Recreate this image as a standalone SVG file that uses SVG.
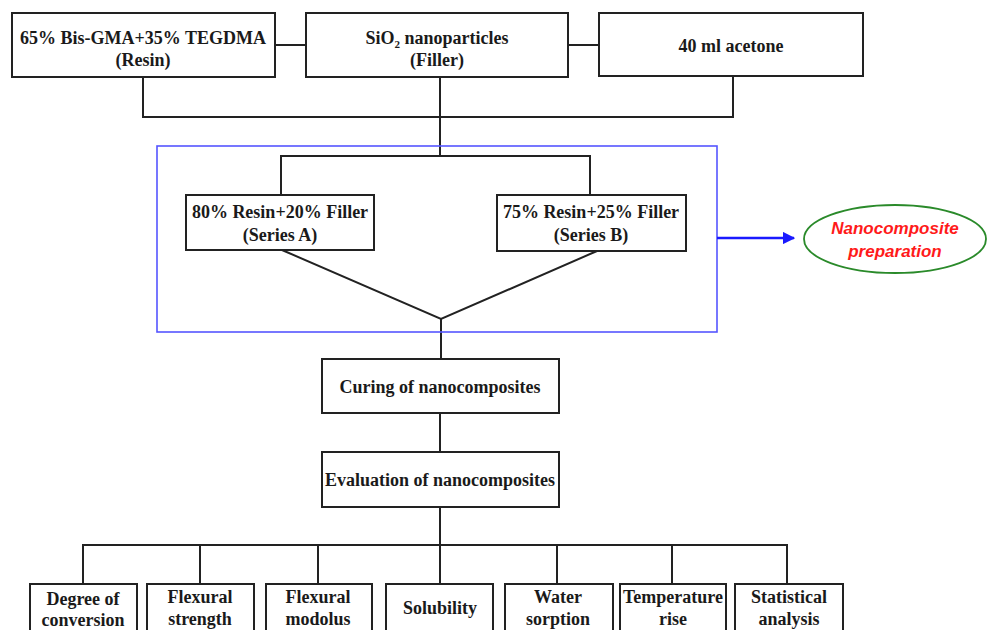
<svg xmlns="http://www.w3.org/2000/svg" width="988" height="630" viewBox="0 0 988 630">
<defs>
<style>
.box{fill:#fff;stroke:#222;stroke-width:2}
.ln{fill:none;stroke:#222;stroke-width:2}
.t{font-family:"Liberation Serif","Times New Roman",serif;font-weight:bold;font-size:18px;fill:#1a1a1a;text-anchor:middle}
.r{font-family:"Liberation Sans",Arial,sans-serif;font-weight:bold;font-style:italic;font-size:17px;fill:#ff1a1a;text-anchor:middle}
</style>
<marker id="ah" viewBox="0 0 10 10" refX="9" refY="5" markerWidth="5" markerHeight="5" orient="auto" markerUnits="strokeWidth">
<path d="M0,0 L10,5 L0,10 z" fill="#1a1aff"/>
</marker>
</defs>
<rect width="988" height="630" fill="#fff"/>
<g id="connectors">
<path class="ln" d="M275,45 H306 M568,45 H599"/>
<path class="ln" d="M143,77 V117 H733 V77"/>
<path class="ln" d="M440,77 V156"/>
<path class="ln" d="M281,195 V156 H590 V195"/>
<path class="ln" d="M282,250 L441,319 L597,251"/>
<path class="ln" d="M441,319 V359"/>
<path class="ln" d="M440,413 V452"/>
<path class="ln" d="M440,507 V545"/>
<path class="ln" d="M83,584 V545 H787 V584"/>
<path class="ln" d="M200,545 V584 M318,545 V584 M440,545 V584 M557,545 V584 M672,545 V584"/>
<rect id="prep-group" x="157" y="146" width="560" height="186" fill="none" stroke="#5555ff" stroke-width="1.6"/>
<line x1="717" y1="238" x2="794" y2="238" stroke="#1a1aff" stroke-width="2.5" marker-end="url(#ah)"/>
</g>
<g id="resin">
<rect class="box" x="12" y="13" width="263" height="64"/>
<text class="t" x="143" y="44">65% Bis-GMA+35% TEGDMA</text>
<text class="t" x="143" y="66">(Resin)</text>
</g>
<g id="filler">
<rect class="box" x="306" y="13" width="262" height="64"/>
<text class="t" x="437" y="44">SiO<tspan font-size="11" dy="4">2</tspan><tspan dy="-4"> nanoparticles</tspan></text>
<text class="t" x="437" y="66">(Filler)</text>
</g>
<g id="acetone">
<rect class="box" x="599" y="13" width="264" height="63"/>
<text class="t" x="731" y="52">40 ml acetone</text>
</g>
<g id="seriesA">
<rect class="box" x="186" y="195" width="188" height="55"/>
<text class="t" x="280" y="218">80% Resin+20% Filler</text>
<text class="t" x="280" y="241">(Series A)</text>
</g>
<g id="seriesB">
<rect class="box" x="497" y="195" width="189" height="56"/>
<text class="t" x="591" y="218">75% Resin+25% Filler</text>
<text class="t" x="591" y="241">(Series B)</text>
</g>
<g id="nanocomposite-preparation">
<ellipse cx="895" cy="239" rx="91" ry="34" fill="#fff" stroke="#2a8a2a" stroke-width="1.8"/>
<text class="r" x="895" y="234">Nanocomposite</text>
<text class="r" x="895" y="257">preparation</text>
</g>
<g id="curing">
<rect class="box" x="322" y="359" width="237" height="54"/>
<text class="t" x="440" y="393">Curing of nanocomposites</text>
</g>
<g id="evaluation">
<rect class="box" x="322" y="452" width="237" height="55"/>
<text class="t" x="440" y="486">Evaluation of nanocomposites</text>
</g>
<g id="degree">
<rect class="box" x="30" y="584" width="107" height="60"/>
<text class="t" x="83" y="605">Degree of</text>
<text class="t" x="83" y="626">conversion</text>
</g>
<g id="flex-strength">
<rect class="box" x="147" y="584" width="107" height="60"/>
<text class="t" x="200" y="603">Flexural</text>
<text class="t" x="200" y="625">strength</text>
</g>
<g id="flex-modulus">
<rect class="box" x="266" y="584" width="106" height="60"/>
<text class="t" x="318" y="603">Flexural</text>
<text class="t" x="318" y="625">modolus</text>
</g>
<g id="solubility">
<rect class="box" x="386" y="584" width="107" height="60"/>
<text class="t" x="440" y="614">Solubility</text>
</g>
<g id="water">
<rect class="box" x="505" y="584" width="108" height="60"/>
<text class="t" x="558" y="603">Water</text>
<text class="t" x="558" y="625">sorption</text>
</g>
<g id="temperature">
<rect class="box" x="620" y="584" width="106" height="60"/>
<text class="t" x="673" y="603">Temperature</text>
<text class="t" x="673" y="625">rise</text>
</g>
<g id="statistical">
<rect class="box" x="735" y="584" width="108" height="60"/>
<text class="t" x="789" y="603">Statistical</text>
<text class="t" x="789" y="625">analysis</text>
</g>
</svg>
